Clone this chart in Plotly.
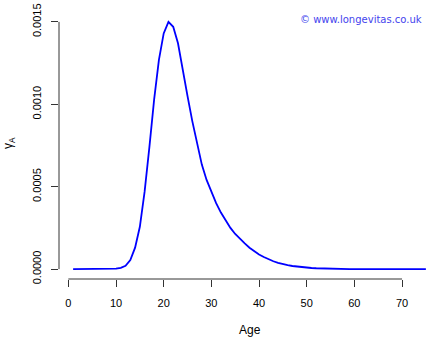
import plotly.graph_objects as go

ages = list(range(1, 76))
gamma_a = [
    0, 0, 0, 0, 0, 0, 0, 0, 0.000001, 0.000003,              # 1-10
    0.000008, 0.00002, 0.000055, 0.00013, 0.000257,            # 11-15
    0.00047, 0.00074, 0.00103, 0.00127, 0.00143,               # 16-20
    0.00150, 0.00147, 0.00137, 0.00120, 0.00105,               # 21-25
    0.000898, 0.000760, 0.000634, 0.000541, 0.000466,          # 26-30
    0.000400, 0.000343, 0.000294, 0.000250, 0.000213,          # 31-35
    0.000182, 0.000156, 0.000130, 0.000108, 0.000089,          # 36-40
    0.0000734, 0.000059, 0.0000475, 0.0000382, 0.000030,       # 41-45
    0.000024, 0.0000188, 0.0000147, 0.0000114, 0.0000088,      # 46-50
    0.0000067, 0.0000051, 0.0000038, 0.0000028, 0.0000020,     # 51-55
    0.0000014, 0.0000010, 0.0000007, 0.0000005, 0.0000004,     # 56-60
    0.0000003, 0.0000002, 0.0000002, 0.0000001, 0.0000001,     # 61-65
    0, 0, 0, 0, 0, 0, 0, 0, 0, 0                               # 66-75
]
x_ticks = [0, 10, 20, 30, 40, 50, 60, 70]
y_ticks = [0, 0.0005, 0.0010, 0.0015]

font_main = "Liberation Sans, Arial, sans-serif"

W, H = 445, 341
L, R, T, B = 59, 5, 12, 62
pw, ph = W - L - R, H - T - B

fig = go.Figure()
fig.add_trace(go.Scatter(x=ages, y=gamma_a, mode="lines",
                         line=dict(color="#0000ff", width=1.8), hoverinfo="skip"))

fig.update_layout(
    width=W, height=H,
    margin=dict(l=L, r=R, t=T, b=B),
    paper_bgcolor="white", plot_bgcolor="white",
    showlegend=False,
    font=dict(family=font_main, size=11, color="black"),
    xaxis=dict(range=[-1.96, 77.96], tickvals=x_ticks, ticks="outside", ticklen=7,
               tickcolor="#333", tickwidth=1, showgrid=False, zeroline=False,
               showline=False, ticklabelstandoff=7, automargin=False),
    yaxis=dict(range=[-0.00006, 0.00156], tickvals=y_ticks, tickformat=".4f",
               ticks="outside", ticklen=7, tickcolor="#333", tickwidth=1,
               showgrid=False, zeroline=False, showline=False, tickangle=-90,
               ticklabelstandoff=6, automargin=False),
    shapes=[
        dict(type="line", xref="x", yref="paper", x0=0, x1=70, y0=0, y1=0,
             line=dict(color="#333", width=1)),
        dict(type="line", xref="paper", yref="y", x0=0, x1=0, y0=0, y1=0.0015,
             line=dict(color="#333", width=1)),
    ],
    annotations=[
        dict(text="© www.longevitas.co.uk", xref="paper", yref="paper",
             x=(424 - L) / pw, y=1 - (20 - T) / ph,
             xanchor="right", yanchor="middle", showarrow=False,
             font=dict(family="DejaVu Sans, sans-serif", size=10, color="#4444ee")),
        dict(text="Age", xref="paper", yref="paper",
             x=(250 - L) / pw, y=-(330 - (T + ph)) / ph,
             xanchor="center", yanchor="middle", showarrow=False,
             font=dict(size=12)),
        dict(text="γ<sub>A</sub>", xref="paper", yref="paper",
             x=-(L - 9) / pw, y=1 - (143 - T) / ph, textangle=-90,
             xanchor="center", yanchor="middle", showarrow=False,
             font=dict(size=12)),
    ],
)

fig.write_html("out.html", config={"displayModeBar": False},
               post_script="document.body.style.margin='0';document.body.style.overflow='hidden';")
